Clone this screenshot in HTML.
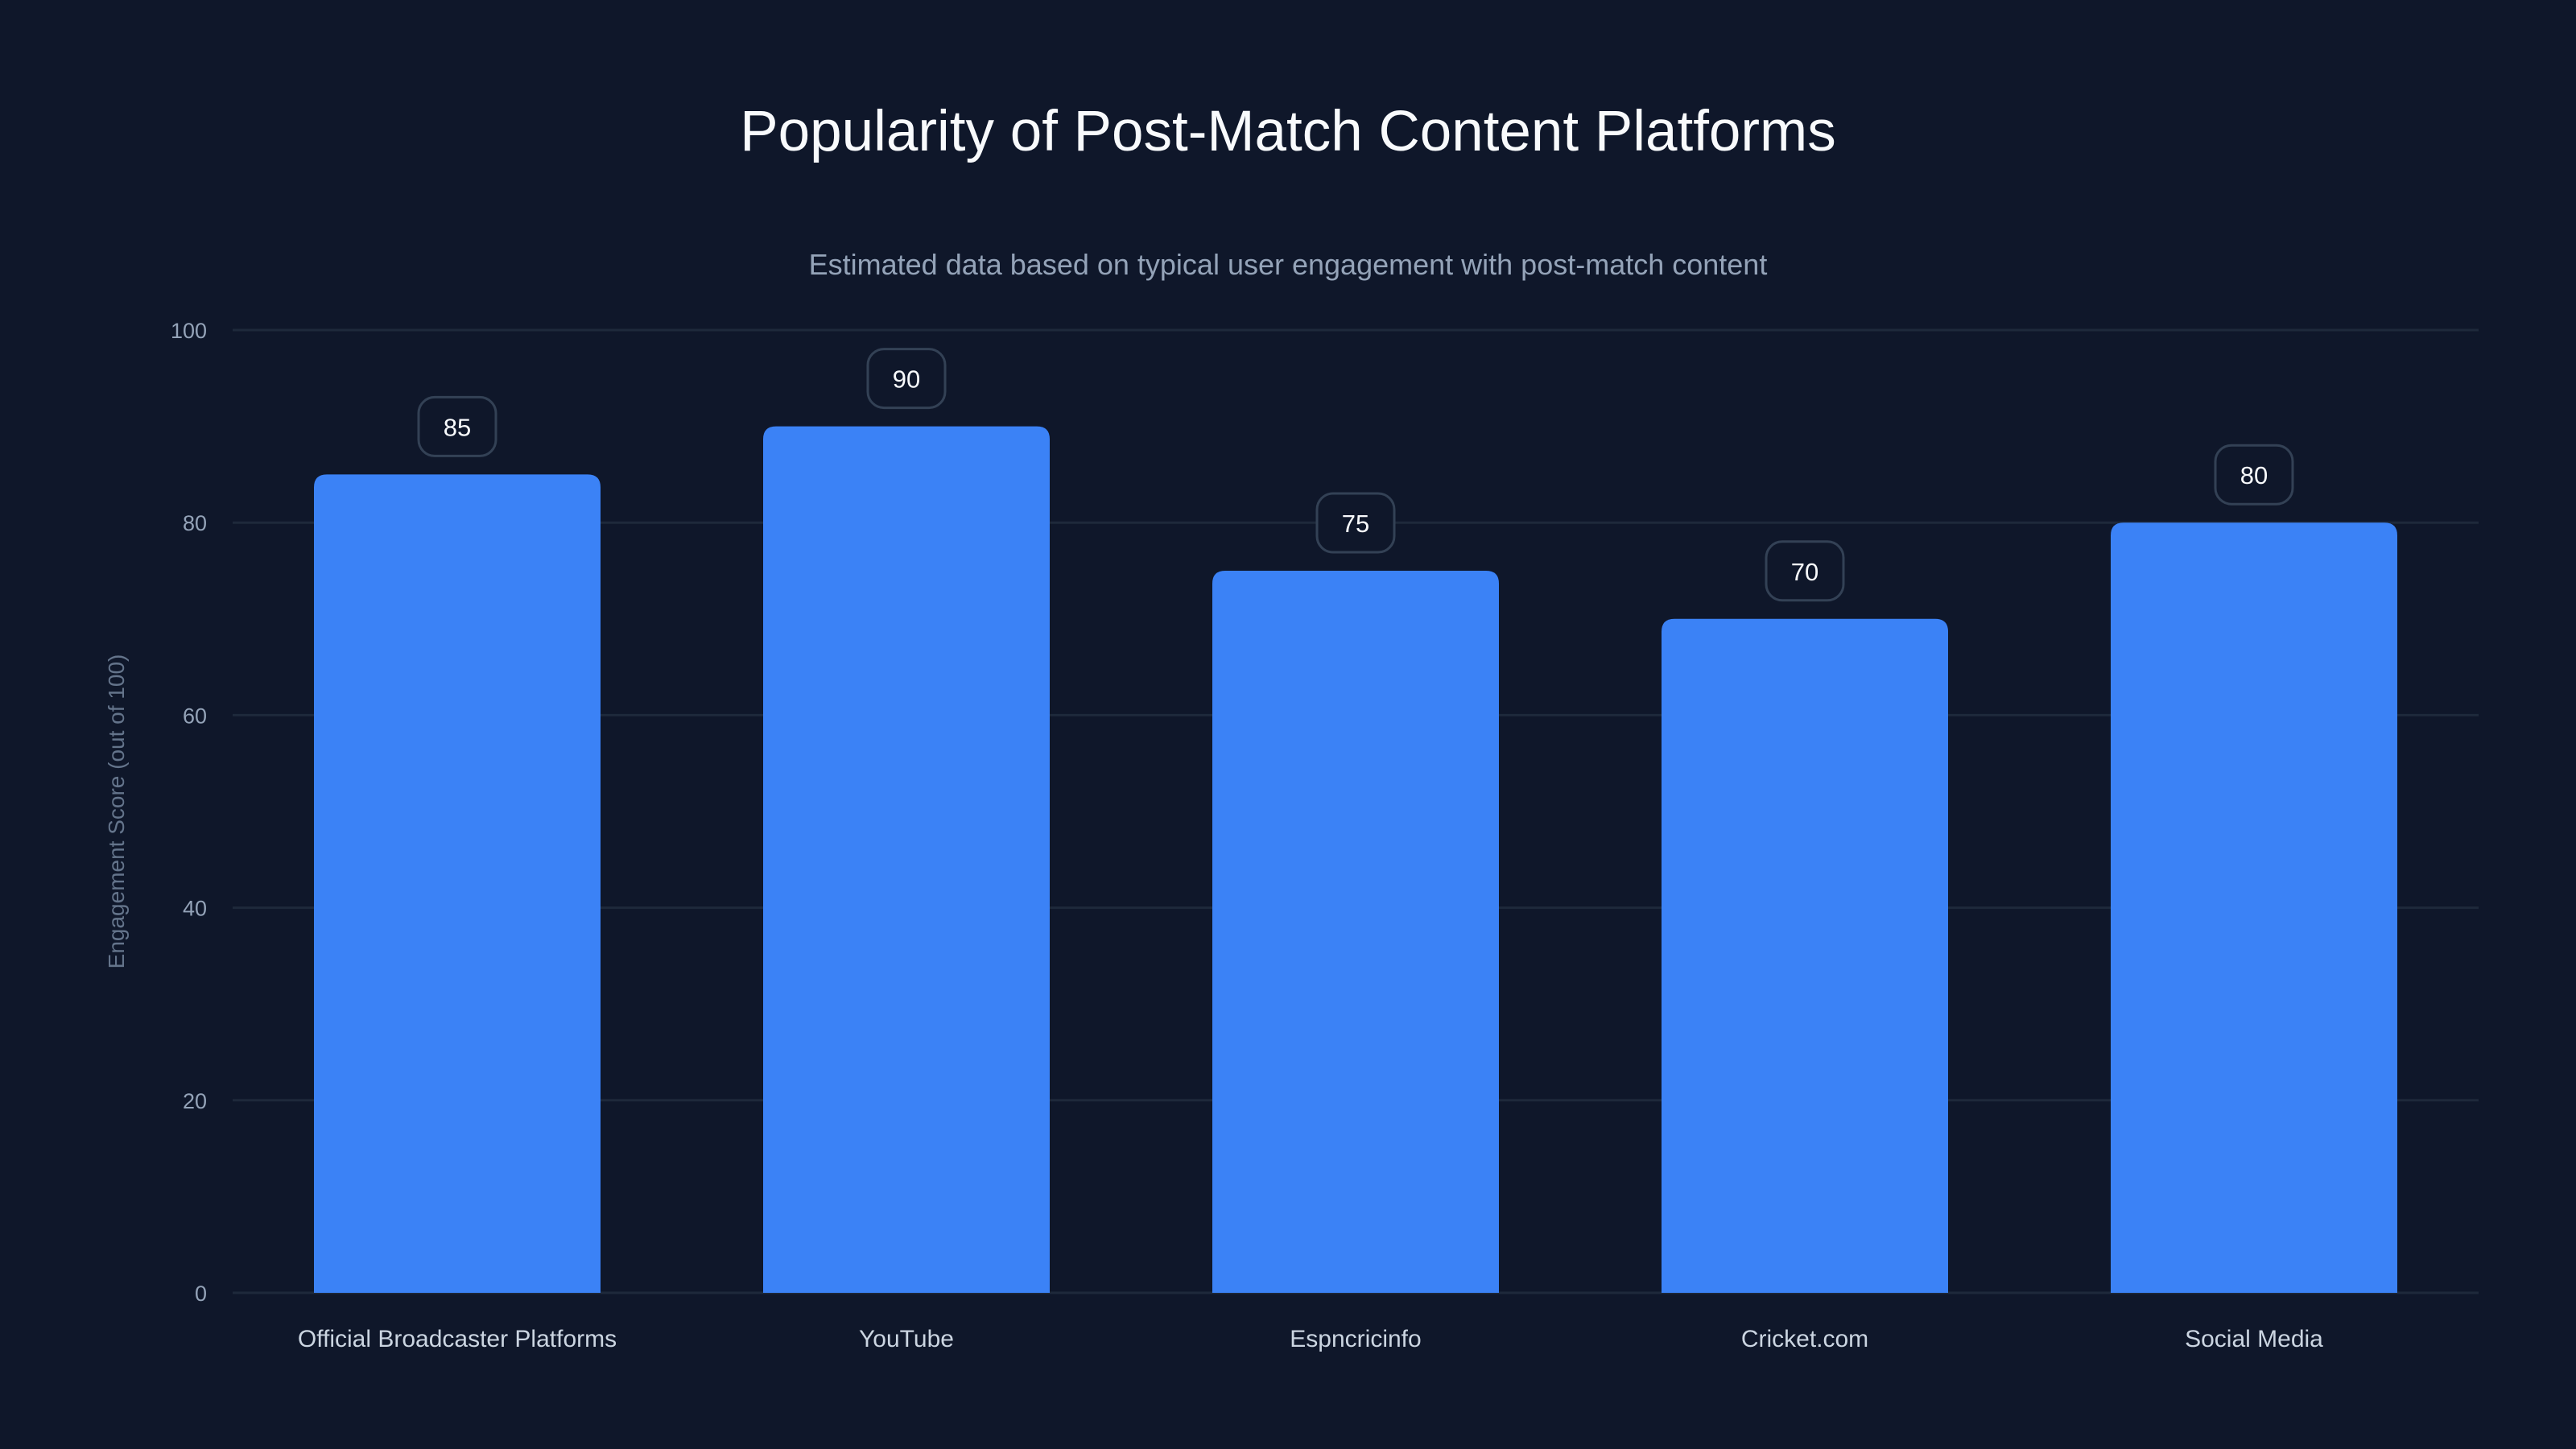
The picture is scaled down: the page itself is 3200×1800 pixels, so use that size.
<!DOCTYPE html>
<html><head><meta charset="utf-8"><style>
html,body{margin:0;padding:0;background:#0f172a;}
svg{display:block;font-family:"Liberation Sans",sans-serif;}
</style></head><body>
<svg id="chart" width="3200" height="1800" viewBox="0 0 3200 1800" xmlns="http://www.w3.org/2000/svg">
<rect width="3200" height="1800" fill="#0f172a"/>
<text x="1600" y="187" text-anchor="middle" fill="#f8fafc" font-size="71">Popularity of Post-Match Content Platforms</text>
<text x="1600" y="341" text-anchor="middle" fill="#94a3b8" font-size="36">Estimated data based on typical user engagement with post-match content</text>
<text transform="translate(154,1008) rotate(-90)" text-anchor="middle" fill="#64748b" font-size="28">Engagement Score (out of 100)</text>
<g id="grid"></g><g id="bars"></g>
</svg>
<script>
const categories=["Official Broadcaster Platforms","YouTube","Espncricinfo","Cricket.com","Social Media"];
const values=[85,90,75,70,80];
const yTicks=[0,20,40,60,80,100];
const NS="http://www.w3.org/2000/svg";
const L=289,R=3079,T=410,B=1606;
const y=v=>B-(v/100)*(B-T);
const band=(R-L)/categories.length;
const x=i=>L+band*(i+0.5);
const bw=band*0.638;
function mk(t,a,p){const e=document.createElementNS(NS,t);for(const k in a)e.setAttribute(k,a[k]);p.appendChild(e);return e;}
const grid=document.getElementById('grid'),bars=document.getElementById('bars');
yTicks.forEach(v=>{
 const l=mk('line',{x1:L,x2:R,y1:y(v),y2:y(v),stroke:'#1e293b','stroke-width':3},grid);
 
 
 const t=mk('text',{x:257,y:y(v)+10,'text-anchor':'end',fill:'#94a3b8','font-size':27},grid);
 t.textContent=v;
 
 
});
values.forEach((v,i)=>{
 const cx=x(i),top=y(v),r=16;
 const p=mk('path',{d:`M${cx-bw/2},${B} V${top+r} Q${cx-bw/2},${top} ${cx-bw/2+r},${top} H${cx+bw/2-r} Q${cx+bw/2},${top} ${cx+bw/2},${top+r} V${B} Z`,fill:'#3b82f6'},bars);
 
 
 const bx=mk('rect',{x:cx-48,y:top-96,width:96,height:73,rx:20,fill:'#0f172a',stroke:'#334155','stroke-width':3},bars);
 
 
 const vt=mk('text',{x:cx,y:top-48,'text-anchor':'middle',fill:'#f8fafc','font-size':31},bars);
 vt.textContent=v;
 
 
 const ct=mk('text',{x:cx,y:1673,'text-anchor':'middle',fill:'#cbd5e1','font-size':30},bars);
 ct.textContent=categories[i];
 
 
});
</script>
</body></html>
